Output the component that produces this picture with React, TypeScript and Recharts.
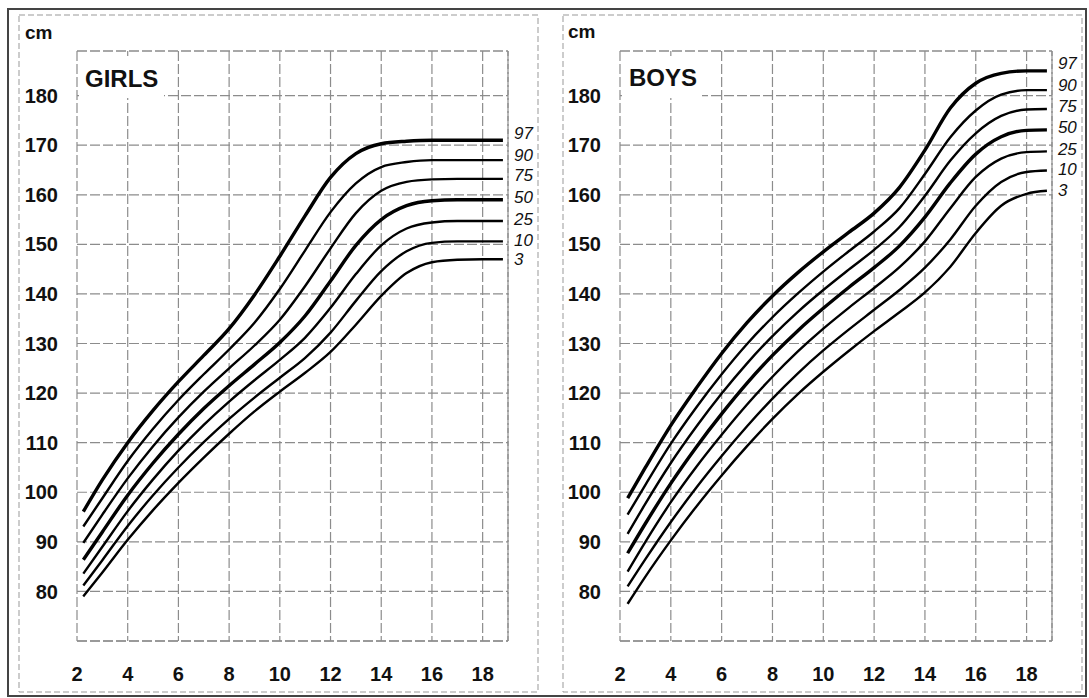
import React from 'react';
import { LineChart, Line, XAxis, YAxis, CartesianGrid, ReferenceLine } from 'recharts';

const FONT = '"Liberation Sans", Arial, Helvetica, sans-serif';

const percentiles = ['97', '90', '75', '50', '25', '10', '3'];
const xTicks = [2, 4, 6, 8, 10, 12, 14, 16, 18];
const yTicks = [80, 90, 100, 110, 120, 130, 140, 150, 160, 170, 180];

// Girls (age in years, height in cm)
const girlsAges = [2.25, 3, 4, 5, 6, 7, 8, 9, 10, 11, 12, 13, 14, 15, 16, 17, 18, 18.8];
const girlsP97 = [96.1, 102.5, 110, 116.5, 122.3, 127.6, 133, 139.8, 147.6, 155.8, 163.5, 168.3, 170.3, 170.8, 171, 171, 171, 171];
const girlsP90 = [93.1, 98.8, 106.3, 112.8, 118.6, 123.8, 128.8, 134.2, 141, 148.8, 156.5, 162.3, 165.6, 166.6, 167, 167, 167, 167];
const girlsP75 = [89.8, 95.5, 102.8, 109.3, 115.1, 120.3, 125, 129.6, 134.8, 141.6, 149.2, 156.3, 160.8, 162.6, 163.1, 163.2, 163.2, 163.2];
const girlsP50 = [86.4, 92, 99.4, 105.9, 111.7, 116.9, 121.5, 125.8, 130.2, 135.6, 142.6, 149.8, 155, 157.8, 158.8, 159, 159, 159];
const girlsP25 = [83.6, 89, 96.2, 102.6, 108.4, 113.6, 118.3, 122.6, 126.7, 131.2, 137.2, 144, 149.8, 153.2, 154.4, 154.7, 154.7, 154.7];
const girlsP10 = [81.2, 86.3, 93.2, 99.4, 105, 110.1, 114.8, 119.1, 123.1, 127.1, 132.2, 138.6, 144.6, 148.6, 150.3, 150.6, 150.6, 150.6];
const girlsP3 = [79, 83.8, 90.4, 96.4, 101.9, 107, 111.8, 116.3, 120.3, 124.1, 128.3, 133.8, 139.6, 144.2, 146.4, 146.9, 147, 147];

// Boys
const boysAges = [2.3, 3, 4, 5, 6, 7, 8, 9, 10, 11, 12, 13, 14, 15, 16, 17, 18, 18.8];
const boysP97 = [98.8, 105, 113.5, 121, 128, 134.2, 139.6, 144.3, 148.5, 152.4, 156.3, 161.5, 169, 177.5, 182.5, 184.5, 185, 185];
const boysP90 = [95.5, 101.5, 109.8, 117.1, 123.8, 129.9, 135.3, 140.1, 144.5, 148.6, 152.6, 157.3, 164.2, 171.6, 177, 180.2, 181.1, 181.1];
const boysP75 = [91.6, 97.7, 105.9, 113.2, 119.9, 126, 131.5, 136.4, 140.8, 144.9, 148.9, 153.5, 159.8, 166.9, 172.4, 175.9, 177.2, 177.3];
const boysP50 = [87.7, 93.7, 101.8, 109.1, 115.8, 122, 127.6, 132.6, 137.1, 141.3, 145.3, 149.7, 155.5, 162.4, 168.2, 171.7, 173, 173.1];
const boysP25 = [84, 90, 98, 105.1, 111.6, 117.7, 123.3, 128.4, 133, 137.2, 141.2, 145.4, 150.6, 157.3, 163.6, 167.3, 168.6, 168.75];
const boysP10 = [81, 86.5, 94, 100.9, 107.3, 113.3, 118.9, 124, 128.6, 132.8, 136.8, 140.8, 145.3, 151, 157.8, 162.6, 164.6, 164.9];
const boysP3 = [77.5, 83, 90.3, 97.1, 103.4, 109.3, 114.8, 119.8, 124.3, 128.5, 132.5, 136.3, 140.3, 145.5, 152.3, 157.8, 160.2, 160.8];

const girlsSeries = [girlsP97, girlsP90, girlsP75, girlsP50, girlsP25, girlsP10, girlsP3];
const boysSeries = [boysP97, boysP90, boysP75, boysP50, boysP25, boysP10, boysP3];

const labelDy = [-7, -5, -3, -2, -2, -1, 0];
const thick = ['97', '50'];

function buildData(ages: number[], series: number[][]) {
  return ages.map((age, i) => {
    const row: any = { age };
    percentiles.forEach((p, k) => {
      row['p' + p] = series[k][i];
    });
    return row;
  });
}

const girlsData = buildData(girlsAges, girlsSeries);
const boysData = buildData(boysAges, boysSeries);

const gridStroke = '#8c8c8c';
const gridDash = '10 3';

function Panel({ data, yAxisWidth, width, right }: { data: any[]; yAxisWidth: number; width: number; right: number }) {
  const last = data.length - 1;
  const makeLabel = (name: string, k: number) => (props: any) => {
    const { x, y, index } = props;
    if (index !== last) return <g />;
    return (
      <text
        x={x + 11}
        y={y + labelDy[k]}
        dominantBaseline="central"
        textAnchor="start"
        fontFamily={FONT}
        fontStyle="italic"
        fontSize={17}
        fill="#111"
      >
        {name}
      </text>
    );
  };
  return (
    <LineChart
      width={width}
      height={698}
      data={data}
      margin={{ top: 51, right, bottom: 0, left: 0 }}
    >
      <CartesianGrid stroke={gridStroke} strokeDasharray={gridDash} strokeWidth={1.2} />
      <XAxis
        dataKey="age"
        type="number"
        domain={[2, 19]}
        ticks={xTicks}
        allowDataOverflow
        axisLine={false}
        tickLine={false}
        tickSize={0}
        tickMargin={26}
        height={57}
        tick={{ fill: '#111', fontSize: 20, fontWeight: 700, fontFamily: FONT }}
      />
      <YAxis
        type="number"
        domain={[70, 189]}
        ticks={yTicks}
        allowDataOverflow
        axisLine={false}
        tickLine={false}
        tickSize={0}
        tickMargin={19}
        width={yAxisWidth}
        tick={{ fill: '#111', fontSize: 20, fontWeight: 700, fontFamily: FONT }}
      />
      <ReferenceLine x={19} stroke={gridStroke} strokeDasharray={gridDash} strokeWidth={1.2} />
      <ReferenceLine y={70} stroke={gridStroke} strokeDasharray={gridDash} strokeWidth={1.5} />
      <ReferenceLine y={189} stroke={gridStroke} strokeDasharray={gridDash} strokeWidth={1.2} />
      {percentiles.map((p, k) => (
        <Line
          key={p}
          dataKey={'p' + p}
          type="monotone"
          stroke="#000"
          strokeWidth={thick.includes(p) ? 3.4 : 2.4}
          dot={false}
          activeDot={false}
          isAnimationActive={false}
          label={makeLabel(p, k)}
        />
      ))}
    </LineChart>
  );
}

export default function App() {
  return (
    <div
      style={{
        position: 'absolute',
        left: 0,
        top: 0,
        width: 1089,
        height: 698,
        background: '#fff',
        overflow: 'hidden',
        fontFamily: FONT,
      }}
    >
      <div style={{ position: 'absolute', left: 0, top: 0 }}>
        <Panel data={girlsData} yAxisWidth={77} width={545} right={37} />
      </div>
      <div style={{ position: 'absolute', left: 545, top: 0 }}>
        <Panel data={boysData} yAxisWidth={75} width={544} right={37} />
      </div>
      <svg
        width={1089}
        height={698}
        style={{ position: 'absolute', left: 0, top: 0, pointerEvents: 'none' }}
      >
        <rect x={8} y={9} width={1078} height={687} fill="none" stroke="#444" strokeWidth={2} />
        <rect x={19} y={15} width={519} height={677} fill="none" stroke="#999" strokeDasharray="6 3" />
        <rect x={563} y={15} width={519} height={677} fill="none" stroke="#999" strokeDasharray="6 3" />
        <rect x={79} y={56} width={85} height={42} fill="#fff" />
        <rect x={622} y={56} width={80} height={42} fill="#fff" />
        <text x={25} y={39} fontFamily={FONT} fontWeight={700} fontSize={19} fill="#111">cm</text>
        <text x={568} y={38} fontFamily={FONT} fontWeight={700} fontSize={19} fill="#111">cm</text>
        <text x={85} y={87} fontFamily={FONT} fontWeight={700} fontSize={24} fill="#111">GIRLS</text>
        <text x={629} y={86} fontFamily={FONT} fontWeight={700} fontSize={24} fill="#111">BOYS</text>
      </svg>
    </div>
  );
}
